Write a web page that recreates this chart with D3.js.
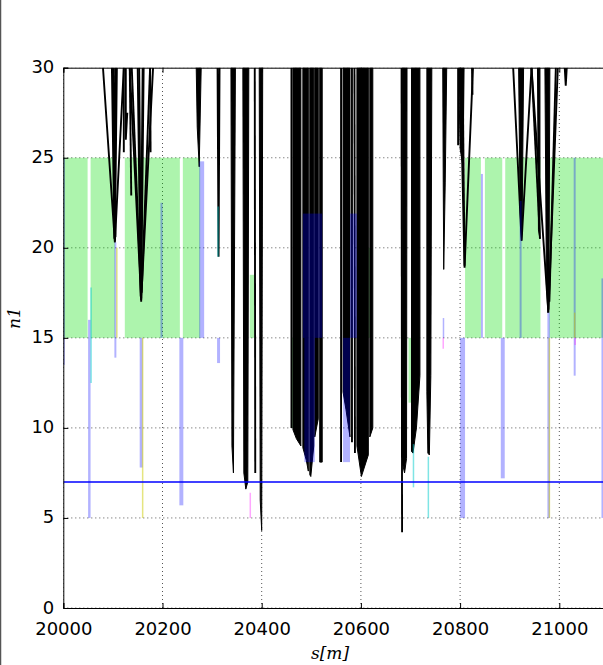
<!DOCTYPE html>
<html>
<head>
<meta charset="utf-8">
<script src="https://cdn.jsdelivr.net/npm/d3@7"></script>
<style>
  body { margin: 0; background: #fff; }
  svg { display: block; }
  .tick text { font-family: "DejaVu Sans", sans-serif; font-size: 18px; fill: #000; }
</style>
</head>
<body>
<div id="my_dataviz"></div>
<script>
// tick values
const xTicks = [20000, 20200, 20400, 20600, 20800, 21000];
const yTicks = [0, 5, 10, 15, 20, 25, 30];

// green tolerance bands [s0, s1, n1 low, n1 high]
const greenBands = [
  [20000, 20049, 15, 25], [20055, 20104, 15, 25], [20124, 20235, 15, 25], [20241, 20276, 15, 25],
  [20810, 20842, 15, 25], [20850, 20885, 15, 25], [20891, 20962, 15, 25], [20980, 21100, 15, 25],
  [20376, 20386, 15, 18.5], [20460, 20467, 10, 15], [20615, 20622, 15, 20], [20696, 20703, 11.4, 15]
];

// blue aperture bars [s0, s1, n1 low, n1 high]
const blueBars = [
  [20000, 20002, 13.5, 25], [20050, 20055, 5, 16], [20103, 20107, 13.9, 20.3], [20154, 20160, 7.8, 15],
  [20196, 20200, 15, 22.5], [20234, 20242, 5.7, 15], [20274, 20284, 15, 24.8], [20310, 20316, 13.6, 15],
  [20483, 20522, 15, 21.9], [20486, 20507, 8.1, 15], [20578, 20592, 15, 21.9], [20564, 20578, 8.1, 15],
  [20765, 20768, 15, 16.1], [20800, 20810, 5, 15], [20842, 20846, 15, 24.1], [20882, 20890, 7.2, 15],
  [20920, 20924, 15, 22.6], [20976, 20981, 5, 16.4], [21029, 21033, 12.9, 25], [21085, 21090, 5, 18.3]
];

// thin coloured markers [s, n1 low, n1 high]
const cyanMarks = [[20056, 12.5, 17.8], [20312, 19.5, 22.3], [20706, 6.7, 9.1], [20736, 5, 8.4]];
const yellowMarks = [[20108, 15, 20], [20160, 5, 15], [20980, 5, 15], [21031, 15, 16.4]];
const pinkMarks = [[20377, 5, 6.4], [20766, 14.4, 15], [21032, 14.6, 15]];

// reference level
const n1Limit = 7;

// n1 curves, [s, n1] points
const n1Lines = [
  [[20080, 30], [20104, 20.3], [20122, 30]],
  [[20098, 30], [20103, 20.5], [20106, 30]],
  [[20100, 30], [20104, 20.4], [20108, 30]],
  [[20102, 30], [20105, 20.6]],
  [[20122, 30], [20122, 25.3]],
  [[20126, 30], [20126, 26], [20129, 27.5]],
  [[20134, 30], [20157, 17.1], [20181, 30]],
  [[20138, 30], [20157, 17.2]],
  [[20134, 30], [20137, 22.9]],
  [[20150, 30], [20156, 17.3], [20160, 30]],
  [[20153, 30], [20157, 17.0], [20162, 30]],
  [[20175, 30], [20158, 17.5]],
  [[20175, 30], [20176, 25.3]],
  [[20311, 30], [20313, 19.5], [20315, 30]],
  [[20386, 30], [20387, 7.5]],
  [[20460, 30], [20460, 10]],
  [[20560, 30], [20560, 8.1]],
  [[20582, 30], [20582, 9.2]],
  [[20587, 30], [20588, 8.6]],
  [[20682, 30], [20683, 4.2]],
  [[20796, 30], [20796, 25.7]],
  [[20800, 30], [20809, 18.9], [20826, 30]],
  [[20805, 30], [20809, 19]],
  [[20824, 30], [20825, 28.5]],
  [[20907, 30], [20924, 20.4], [20944, 30]],
  [[20944, 30], [20961, 20.5]],
  [[20944, 30], [20978, 16.4], [20997, 30]],
  [[20993, 30], [20980, 17]],
  [[21011, 30], [21013, 29], [21015, 30]]
];

// dense n1 bundles, outlines as [s, n1] points
const n1Bundles = [
  [[20268, 30], [20278, 30], [20274, 24.5], [20270, 26.7]],
  [[20338, 30], [20347, 30], [20343, 7.5], [20340, 9]],
  [[20362, 30], [20374, 30], [20372, 7], [20368, 6.6], [20364, 7.5]],
  [[20395, 30], [20402, 30], [20400, 4.3], [20397, 6]],
  [[20463, 30], [20479, 30], [20479, 9.0], [20470, 9.4], [20463, 9.9]],
  [[20483, 30], [20494, 30], [20494, 7.6], [20490, 8.2], [20483, 8.9]],
  [[20497, 30], [20505, 30], [20505, 9], [20499, 7.3], [20497, 7.4]],
  [[20507, 30], [20514, 30], [20514, 10.5], [20507, 9.5]],
  [[20517, 30], [20522, 30], [20522, 8.1], [20517, 8.1]],
  [[20564, 30], [20578, 30], [20578, 9.5], [20570, 11], [20564, 12]],
  [[20592, 30], [20615, 30], [20615, 8.5], [20601, 7.3], [20592, 9.0]],
  [[20618, 30], [20624, 30], [20624, 10], [20618, 9.5]],
  [[20683, 30], [20693, 30], [20692, 8.3], [20688, 7.5], [20684, 8]],
  [[20702, 30], [20719, 30], [20719, 12.9], [20712, 10], [20705, 8.6], [20702, 8.7]],
  [[20733, 30], [20743, 30], [20741, 12.9], [20738, 8.5], [20735, 8.6], [20733, 12]],
  [[20765, 30], [20773, 30], [20770, 23.6], [20767, 18.8], [20766, 23.6]],
  [[20797, 30], [20808, 30], [20806, 24.5], [20800, 25.5]],
  [[20918, 30], [20928, 30], [20925, 21], [20924, 20.4], [20921, 22]],
  [[20956, 30], [20961, 30], [20961, 20.5], [20958, 21]],
  [[20971, 30], [20981, 30], [20979, 16.6], [20977, 16.4], [20974, 18]]
];

const W = 603, H = 665;
const margin = {top: 67.7, left: 63.3, bottom: 57};
const xScale = d3.scaleLinear().domain([20000, 21100]).range([margin.left, margin.left + 1100 * 0.496]);
const yScale = d3.scaleLinear().domain([0, 30]).range([H - margin.bottom, margin.top]);

const svg = d3.select("#my_dataviz")
  .append("svg")
  .attr("width", W)
  .attr("height", H);

// figure border at the left edge
svg.append("line").attr("x1", 0.5).attr("x2", 0.5).attr("y1", 0).attr("y2", H)
  .attr("stroke", "#555").attr("stroke-width", 1.5);

svg.append("clipPath").attr("id", "plotclip")
  .append("rect")
  .attr("x", xScale(20000)).attr("y", yScale(30))
  .attr("width", xScale(21100) - xScale(20000)).attr("height", yScale(0) - yScale(30));

const plot = svg.append("g").attr("clip-path", "url(#plotclip)");

// grid
plot.append("g").selectAll("line").data(xTicks).join("line")
  .attr("x1", d => xScale(d)).attr("x2", d => xScale(d))
  .attr("y1", yScale(0)).attr("y2", yScale(30))
  .attr("stroke", "#555").attr("stroke-width", 1).attr("stroke-dasharray", "1,3");
plot.append("g").selectAll("line").data(yTicks).join("line")
  .attr("x1", xScale(20000)).attr("x2", xScale(21100))
  .attr("y1", d => yScale(d)).attr("y2", d => yScale(d))
  .attr("stroke", "#555").attr("stroke-width", 1).attr("stroke-dasharray", "1,3");

// green bands
plot.append("g").selectAll("rect").data(greenBands).join("rect")
  .attr("x", d => xScale(d[0]))
  .attr("width", d => xScale(d[1]) - xScale(d[0]))
  .attr("y", d => yScale(d[3]))
  .attr("height", d => yScale(d[2]) - yScale(d[3]))
  .attr("fill", "#00dd00").attr("fill-opacity", 0.32);

const line = d3.line().x(d => xScale(d[0])).y(d => yScale(d[1]));

// n1 curves
plot.append("g").selectAll("path").data(n1Bundles).join("path")
  .attr("d", d => line(d) + "Z")
  .attr("fill", "#000").attr("stroke", "#000").attr("stroke-width", 1);
plot.append("g").selectAll("path").data(n1Lines).join("path")
  .attr("d", line)
  .attr("fill", "none").attr("stroke", "#000").attr("stroke-width", 1.9);

// aperture bars
plot.append("g").selectAll("rect").data(blueBars).join("rect")
  .attr("x", d => xScale(d[0]))
  .attr("width", d => Math.max(1.5, xScale(d[1]) - xScale(d[0])))
  .attr("y", d => yScale(d[3]))
  .attr("height", d => yScale(d[2]) - yScale(d[3]))
  .attr("fill", "#0000ff").attr("fill-opacity", 0.3);

function marks(data, color, op) {
  plot.append("g").selectAll("line").data(data).join("line")
    .attr("x1", d => xScale(d[0])).attr("x2", d => xScale(d[0]))
    .attr("y1", d => yScale(d[1])).attr("y2", d => yScale(d[2]))
    .attr("stroke", color).attr("stroke-opacity", op).attr("stroke-width", 1.5);
}
marks(cyanMarks, "#00cccc", 0.5);
marks(yellowMarks, "#cccc00", 0.5);
marks(pinkMarks, "#ff00ff", 0.35);

// n1 limit
plot.append("line")
  .attr("x1", xScale(20000)).attr("x2", xScale(21100))
  .attr("y1", yScale(n1Limit)).attr("y2", yScale(n1Limit))
  .attr("stroke", "#0000ff").attr("stroke-opacity", 0.75).attr("stroke-width", 2);

// axes
const xAxis = svg.append("g").attr("transform", `translate(0,${yScale(0)})`)
  .call(d3.axisBottom(xScale).tickValues(xTicks).tickSize(-5).tickPadding(14).tickFormat(d3.format("d")));
const yAxis = svg.append("g").attr("transform", `translate(${xScale(20000)},0)`)
  .call(d3.axisLeft(yScale).tickValues(yTicks).tickSize(-5).tickPadding(9));
yAxis.selectAll(".tick text").attr("dy", "0.28em");
// top ticks
svg.append("g").attr("transform", `translate(0,${yScale(30)})`)
  .call(d3.axisTop(xScale).tickValues(xTicks).tickSize(-5).tickFormat(""));
svg.selectAll(".tick line").attr("stroke", "#000");
svg.selectAll(".domain").attr("stroke", "#000");

// axis labels
svg.append("text")
  .attr("x", 330).attr("y", 659)
  .attr("text-anchor", "middle")
  .style("font-family", "'DejaVu Serif', serif").style("font-style", "italic").style("font-size", "17px")
  .text("s[m]");
svg.append("text")
  .attr("transform", "translate(20,318) rotate(-90)")
  .attr("text-anchor", "middle")
  .style("font-family", "'DejaVu Serif', serif").style("font-style", "italic").style("font-size", "17px")
  .text("n1");
</script>
</body>
</html>
